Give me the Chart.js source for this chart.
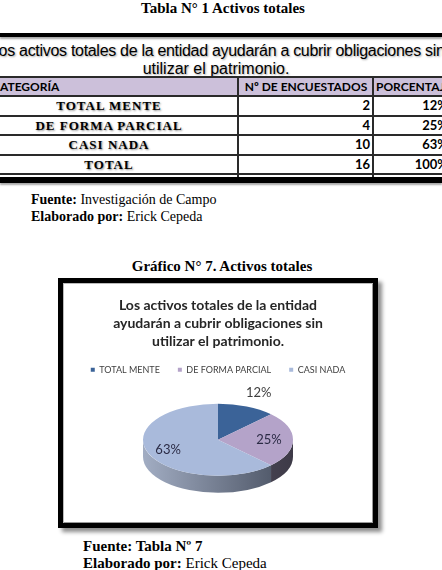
<!DOCTYPE html>
<html><head><meta charset="utf-8">
<script src="https://cdn.jsdelivr.net/npm/chart.js@4.4.1/dist/chart.umd.min.js"></script>
<style>
html,body{margin:0;padding:0;background:#fff;}
body{width:442px;height:570px;position:relative;overflow:hidden;font-family:"Liberation Serif","Times New Roman",serif;color:#000;}
.abs{position:absolute;white-space:nowrap;}
.cap{font-size:14px;line-height:17px;}
.big{font-size:15px;line-height:17px;}
.b{font-weight:bold;}
.hl{position:absolute;left:0;width:442px;background:#2a2a2a;}
.vl{position:absolute;width:2px;background:#2a2a2a;}
.ttl{font-family:"Liberation Sans",Arial,sans-serif;font-size:16px;line-height:18px;text-align:center;text-shadow:1px 1px 2px rgba(0,0,0,.35);}
.hdr{font-family:Lato,"Open Sans",sans-serif;font-weight:bold;font-size:12px;line-height:17px;}
.rl{font-family:"Liberation Serif",serif;font-weight:bold;font-size:13px;letter-spacing:1px;text-align:center;text-shadow:1px 1px 2px rgba(0,0,0,.45);line-height:19px;}
.num{font-family:Lato,sans-serif;font-weight:bold;font-size:13px;text-align:right;line-height:19px;}
#box{position:absolute;left:58px;top:278px;width:320px;height:250px;box-sizing:border-box;border:5px solid #000;box-shadow:4px 4px 4px rgba(0,0,0,.45), inset 1px 1px 0 #bbb, inset -1px -1px 0 #999;background:#fff;}
#wrap{position:absolute;left:63px;top:283px;width:310px;height:240px;}
</style></head>
<body>
<div class="abs big b" style="left:0;width:446px;top:0;text-align:center;">Tabla N° 1 Activos totales</div>

<div id="table"></div>

<div class="abs cap" style="left:31px;top:191px;"><b>Fuente:</b> Investigación de Campo</div>
<div class="abs cap" style="left:31px;top:208px;"><b>Elaborado por:</b> Erick Cepeda</div>
<div class="abs big b" style="left:0;width:444px;top:258px;text-align:center;">Gráfico N° 7. Activos totales</div>

<div id="box"></div>
<div id="wrap"><canvas id="c" width="310" height="240"></canvas></div>

<div class="abs big b" style="left:83px;top:538px;">Fuente: Tabla Nº 7</div>
<div class="abs big" style="left:83px;top:555px;"><b>Elaborado por:</b> Erick Cepeda</div>

<script>
// ---- data ----
const categories = ['TOTAL MENTE', 'DE FORMA PARCIAL', 'CASI NADA'];
const respondents = [2, 4, 10];
const percentLabels = ['12%', '25%', '63%'];
const totalLabel = 'TOTAL';
const totalRespondents = 16;
const totalPercent = '100%';
const chartTitle = ['Los activos totales de la entidad', 'ayudarán a cubrir obligaciones sin', 'utilizar el patrimonio.'];
const tableTitle = ['Los activos totales de la entidad ayudarán a cubrir obligaciones sin', 'utilizar el patrimonio.'];
const tableHeaders = ['CATEGORÍA', 'Nº DE ENCUESTADOS', 'PORCENTAJE'];

// ---- styles ----
const topColors = ['#3b6398', '#b4a3c9', '#a9badb'];
const sideColors = [['#2c4a72', '#1f3553'], ['#6a6478', '#3d3a47'], ['#a2adc3', '#464e5e']];
const labelColors = ['#404040', '#2b2b45', '#2b2b45'];
const labelRadius = [1.42, 0.68, 0.72];
const RX = 75, RY = 36, DEPTH = 17;

// ---- table (HTML) ----
(function () {
  const t = document.getElementById('table');
  let h = '';
  h += '<div class="hl" style="top:33px;height:4px;background:#000;box-shadow:0 2px 2px rgba(0,0,0,.35);"></div>';
  h += '<div class="abs ttl" style="left:-10px;width:452px;top:42px;letter-spacing:-0.3px;">' + tableTitle[0] + '</div>';
  h += '<div class="abs ttl" style="left:-10px;width:452px;top:60px;">' + tableTitle[1] + '</div>';
  h += '<div class="hl" style="top:76px;height:2px;"></div>';
  h += '<div class="hl" style="top:78px;height:17px;background:#ccc0da;"></div>';
  h += '<div class="abs hdr" style="left:-8px;top:78px;">' + tableHeaders[0] + '</div>';
  h += '<div class="abs hdr" style="left:239px;width:134px;text-align:center;top:78px;">' + tableHeaders[1] + '</div>';
  h += '<div class="abs hdr" style="left:376px;top:78px;">' + tableHeaders[2] + '</div>';
  const lines = [95, 115, 134, 154, 173];
  lines.forEach(y => { h += '<div class="hl" style="top:' + y + 'px;height:2px;"></div>'; });
  const rows = categories.map((c, i) => [c, respondents[i], percentLabels[i]]);
  rows.push([totalLabel, totalRespondents, totalPercent]);
  rows.forEach((r, i) => {
    const top = lines[i] + 1;
    h += '<div class="abs rl" style="left:-20px;width:258px;top:' + top + 'px;">' + r[0] + '</div>';
    h += '<div class="abs num" style="left:239px;width:131px;top:' + top + 'px;">' + r[1] + '</div>';
    h += '<div class="abs num" style="left:374px;width:74px;top:' + top + 'px;">' + r[2] + '</div>';
  });
  h += '<div class="vl" style="left:237px;top:76px;height:101px;"></div>';
  h += '<div class="vl" style="left:372px;top:76px;height:101px;"></div>';
  h += '<div class="hl" style="top:177px;height:6px;background:#000;box-shadow:0 2px 2px rgba(0,0,0,.35);"></div>';
  t.innerHTML = h;
})();

// ---- 3D pie plugin ----
const pie3d = {
  id: 'pie3d',
  beforeDatasetsDraw(chart) {
    const meta = chart.getDatasetMeta(0);
    const a = meta.data[0];
    const cx = a.x, cy = a.y, r = a.outerRadius;
    const sx = RX / r, sy = RY / r;
    const ctx = chart.ctx;
    ctx.save();
    ctx.translate(cx, cy); ctx.scale(sx, sy); ctx.translate(-cx, -cy);
    const D = DEPTH / sy;
    meta.data.forEach((arc, i) => {
      const lo = Math.max(arc.startAngle, 0), hi = Math.min(arc.endAngle, Math.PI);
      if (hi <= lo) return;
      const g = ctx.createLinearGradient(cx - r, 0, cx + r, 0);
      g.addColorStop(0, sideColors[i][0]);
      g.addColorStop(1, sideColors[i][1]);
      ctx.beginPath();
      ctx.arc(cx, cy, r, lo, hi);
      ctx.lineTo(cx + r * Math.cos(hi), cy + r * Math.sin(hi) + D);
      ctx.arc(cx, cy + D, r, hi, lo, true);
      ctx.closePath();
      ctx.fillStyle = g;
      ctx.fill();
    });
  },
  afterDatasetsDraw(chart) {
    const ctx = chart.ctx;
    ctx.restore();
    const meta = chart.getDatasetMeta(0);
    ctx.save();
    ctx.font = '13px Lato, sans-serif';
    ctx.textAlign = 'center';
    ctx.textBaseline = 'middle';
    meta.data.forEach((arc, i) => {
      const mid = (arc.startAngle + arc.endAngle) / 2;
      const x = arc.x + RX * Math.cos(mid) * labelRadius[i];
      const y = arc.y + RY * Math.sin(mid) * labelRadius[i];
      ctx.fillStyle = labelColors[i];
      ctx.fillText(percentLabels[i], x, y);
    });
    ctx.restore();
  }
};

new Chart(document.getElementById('c'), {
  type: 'pie',
  data: {
    labels: categories,
    datasets: [{ data: respondents, backgroundColor: topColors, borderWidth: 0 }]
  },
  options: {
    responsive: false,
    animation: false,
    devicePixelRatio: 1,
    layout: { padding: { top: 0, bottom: 28, left: 0, right: 0 } },
    plugins: {
      title: {
        display: true,
        text: chartTitle,
        color: '#262626',
        font: { family: 'Lato', weight: 'bold', size: 14, lineHeight: 1.27 },
        padding: { top: 14, bottom: -3 }
      },
      legend: {
        position: 'top',
        labels: { boxWidth: 4, boxHeight: 4, font: { family: 'Lato', size: 9 }, color: '#404040', padding: 18 }
      },
      tooltip: { enabled: false }
    }
  },
  plugins: [pie3d]
});
</script>
</body></html>
